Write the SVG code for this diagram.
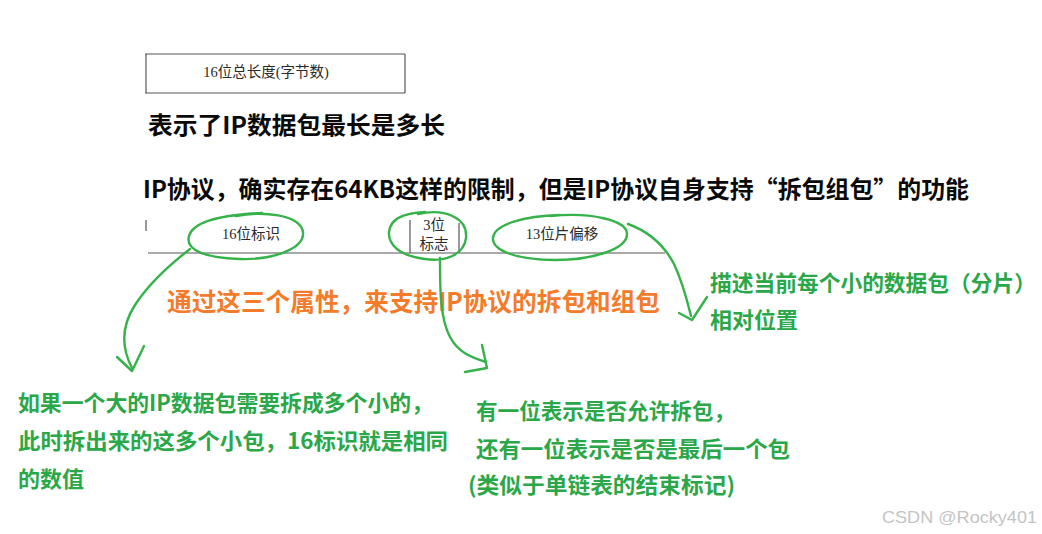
<svg xmlns="http://www.w3.org/2000/svg" width="1042" height="534" viewBox="0 0 1042 534">
<style>
.ser{font-family:"Liberation Serif","Noto Sans CJK SC",serif;font-size:14.5px;fill:#2a2a2a}
.blk{font-family:"Noto Sans CJK SC","Noto Sans",sans-serif;font-weight:700;font-size:24px;fill:#0a0a0a}
.org{font-family:"Noto Sans CJK SC","Noto Sans",sans-serif;font-weight:700;font-size:25px;fill:#f47b2a}
.grn{font-family:"Noto Sans CJK SC","Noto Sans",sans-serif;font-weight:700;font-size:22px;fill:#2aa748}
.tbl{stroke:#555;stroke-width:1.2;fill:none}
.pen{stroke:#36b24a;stroke-width:2.4;fill:none;stroke-linecap:round;stroke-linejoin:round}
.wm{font-family:"Liberation Sans","Noto Sans",sans-serif;font-size:17px;fill:#c4c4c4}
</style>
<rect width="1042" height="534" fill="#ffffff"/>

<g id="total-length-field">
  <line class="tbl" x1="145" y1="54" x2="405" y2="54" stroke-width="1.6"/>
  <line class="tbl" x1="145" y1="93" x2="405" y2="93"/>
  <line class="tbl" x1="146" y1="54" x2="146" y2="93" stroke="#999"/>
  <line class="tbl" x1="405" y1="54" x2="405" y2="93"/>
  <text class="ser" x="266" y="77" text-anchor="middle">16位总长度(字节数)</text>
</g>

<g id="heading">
  <text class="blk" x="148" y="134" textLength="297" lengthAdjust="spacingAndGlyphs">表示了IP数据包最长是多长</text>
  <text class="blk" x="143" y="198" textLength="826" lengthAdjust="spacingAndGlyphs">IP协议，确实存在64KB这样的限制，但是IP协议自身支持“拆包组包”的功能</text>
</g>

<g id="fields-row">
  <line class="tbl" x1="146" y1="220" x2="146" y2="231" stroke="#999"/>
  <line class="tbl" x1="148" y1="253" x2="665" y2="253" stroke="#666" stroke-width="1.6"/>
  <line class="tbl" x1="410" y1="220" x2="410" y2="253"/>
  <line class="tbl" x1="459" y1="223" x2="459" y2="253"/>
</g>

<g id="field-id">
  <text class="ser" x="251" y="239" text-anchor="middle">16位标识</text>
  <path class="pen" d="M236,216 C262,211 300,214 303,232 C305,250 270,260 240,259 C205,258 185,250 189,236 C193,222 218,215 262,213"/>
</g>

<g id="field-flags">
  <text class="ser" x="434" y="230" text-anchor="middle">3位</text>
  <text class="ser" x="434" y="249" text-anchor="middle">标志</text>
  <path class="pen" d="M418,214 C445,208 468,218 466,238 C464,255 445,262 425,259 C400,256 388,245 389,232 C390,220 402,213 425,212"/>
</g>

<g id="field-offset">
  <text class="ser" x="562" y="239" text-anchor="middle">13位片偏移</text>
  <path class="pen" d="M551,216 C590,212 627,220 627,234 C627,250 590,260 555,260 C515,260 492,250 493,238 C494,224 525,216 560,215"/>
</g>

<g id="summary">
  <text class="org" x="167" y="311" textLength="493" lengthAdjust="spacingAndGlyphs">通过这三个属性，来支持IP协议的拆包和组包</text>
</g>

<g id="note-id">
  <text class="grn" x="18" y="411" textLength="415" lengthAdjust="spacingAndGlyphs">如果一个大的IP数据包需要拆成多个小的，</text>
  <text class="grn" x="18" y="449" textLength="430" lengthAdjust="spacingAndGlyphs">此时拆出来的这多个小包，16标识就是相同</text>
  <text class="grn" x="18" y="487">的数值</text>
</g>

<g id="note-flags">
  <text class="grn" x="476" y="419" textLength="259" lengthAdjust="spacingAndGlyphs">有一位表示是否允许拆包，</text>
  <text class="grn" x="476" y="457" textLength="314" lengthAdjust="spacingAndGlyphs">还有一位表示是否是最后一个包</text>
  <text class="grn" x="468" y="493" textLength="267" lengthAdjust="spacingAndGlyphs">(类似于单链表的结束标记)</text>
</g>

<g id="note-offset">
  <text class="grn" x="710" y="291" textLength="326" lengthAdjust="spacingAndGlyphs">描述当前每个小的数据包（分片）</text>
  <text class="grn" x="710" y="328">相对位置</text>
</g>

<g id="connectors">
  <path class="pen" d="M190,249 C168,266 148,285 135,305 C122,325 120,345 132,368"/>
  <path class="pen" d="M117,357 L132,371 L144,346"/>
  <path class="pen" d="M440,258 C440,290 440,318 450,337 C458,352 470,357 486,362"/>
  <path class="pen" d="M482,345 L487,368 L465,372"/>
  <path class="pen" d="M628,224 C650,232 664,245 674,264 C683,283 687,300 691,316"/>
  <path class="pen" d="M679,313 L692,320 L707,297"/>
</g>

<g id="watermark">
  <text class="wm" x="882" y="523" textLength="155" lengthAdjust="spacingAndGlyphs">CSDN @Rocky401</text>
</g>
</svg>
